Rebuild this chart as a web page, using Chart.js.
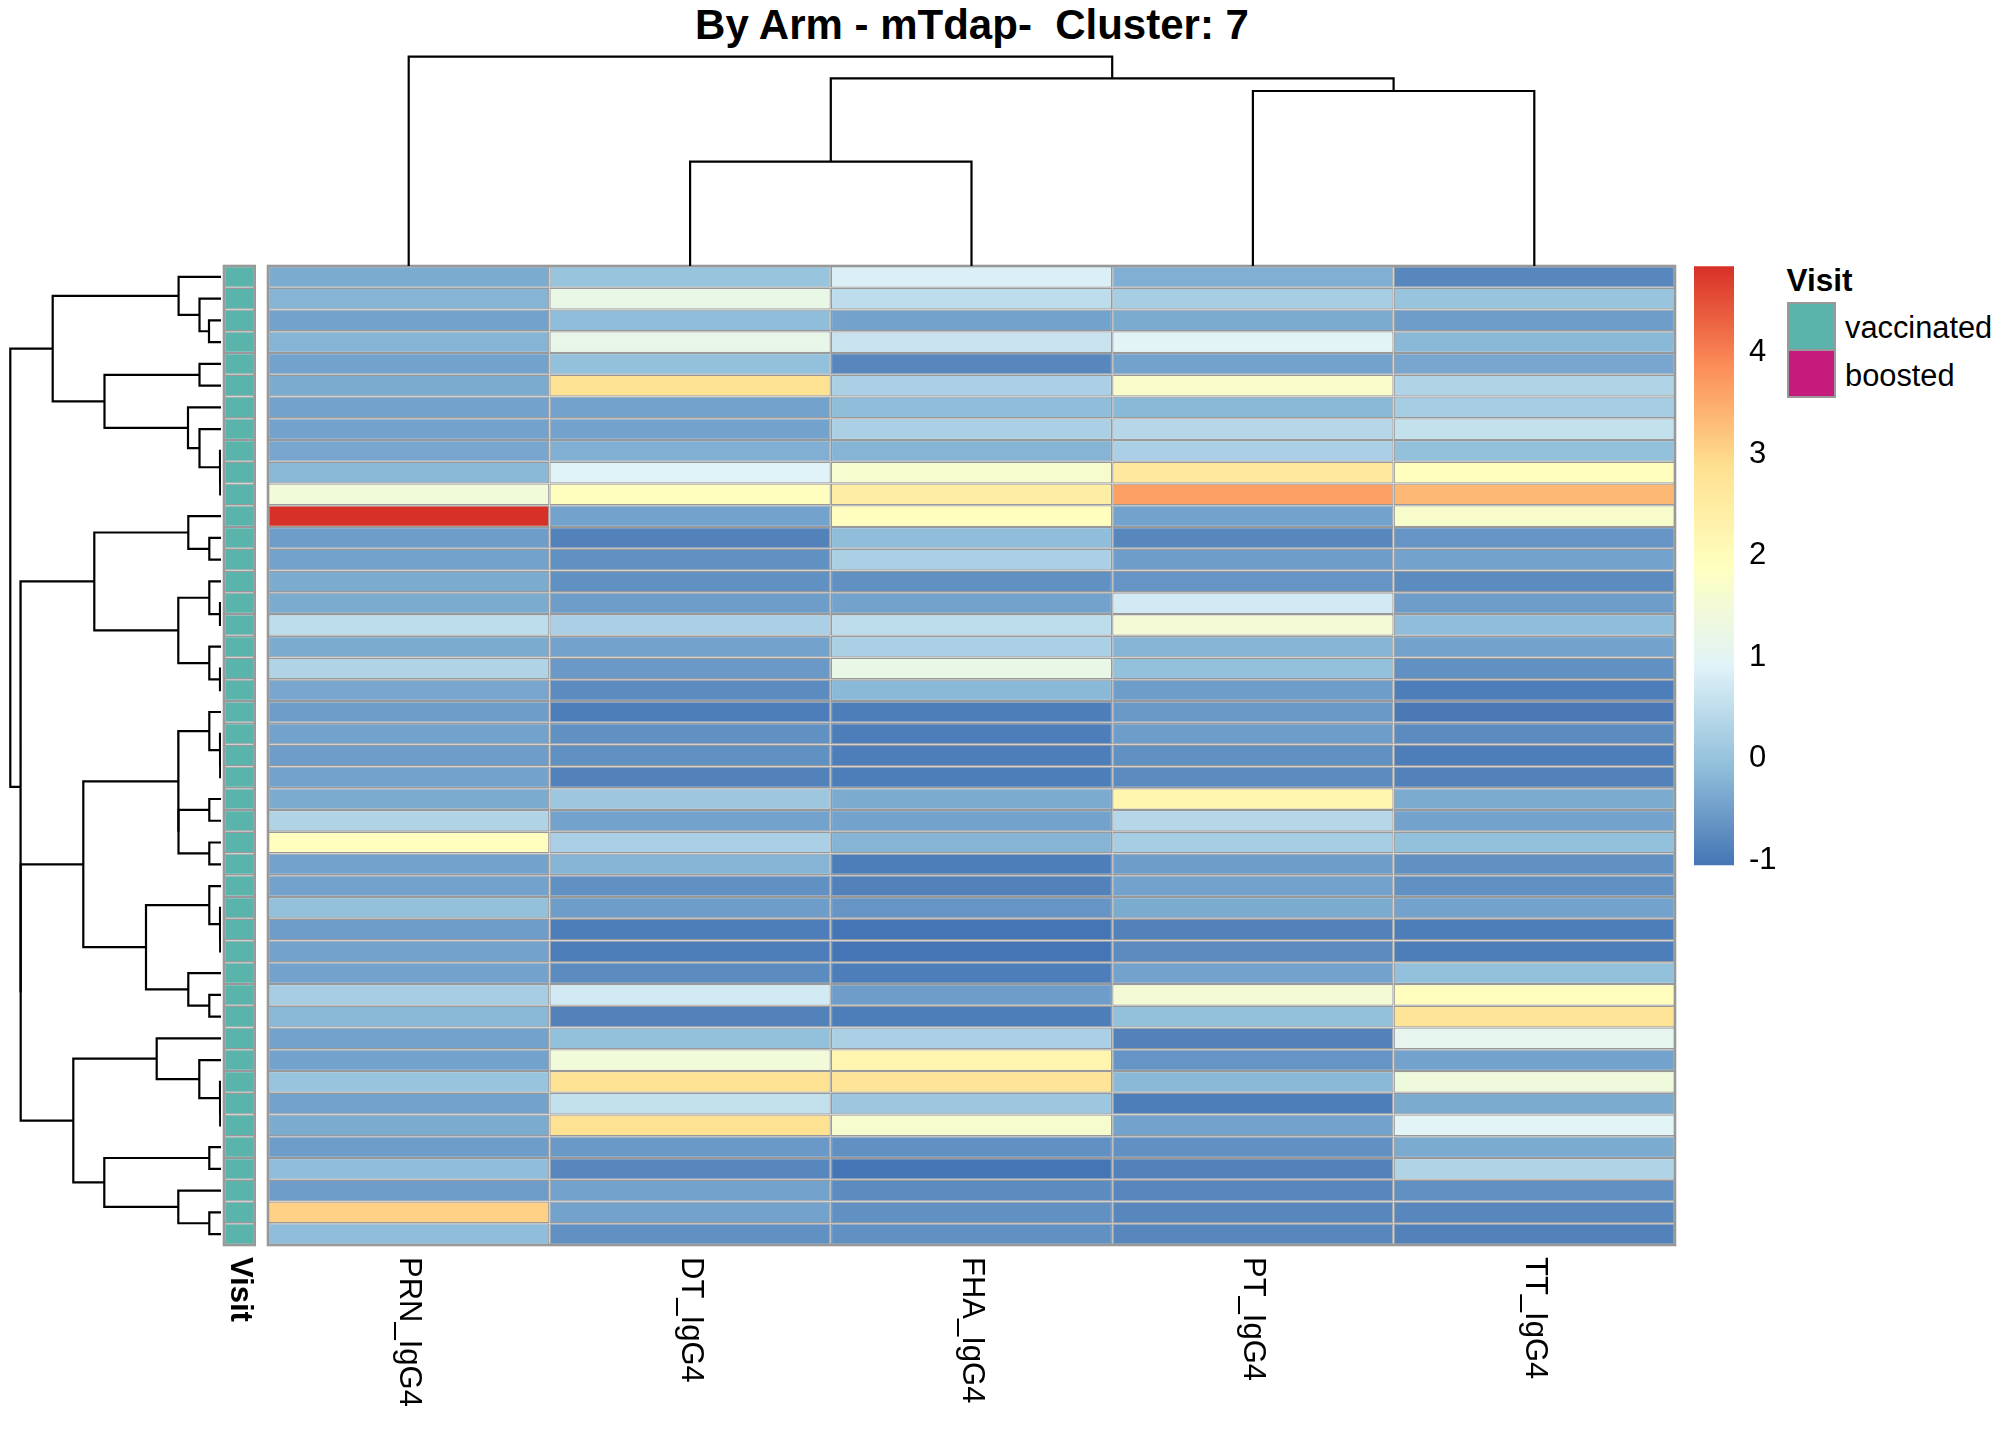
<!DOCTYPE html>
<html>
<head>
<meta charset="utf-8">
<script src="https://cdn.jsdelivr.net/npm/chart.js@4.4.1/dist/chart.umd.min.js"></script>
<style>
html,body{margin:0;padding:0;background:#fff;}
body{width:2016px;height:1440px;position:relative;overflow:hidden;font-family:"Liberation Sans",Arial,sans-serif;}
canvas{position:absolute;}
.t{position:absolute;white-space:pre;line-height:1;color:#000;font-family:"Liberation Sans",Arial,sans-serif;}
.box{position:absolute;box-sizing:border-box;border:2.6px solid #999999;}
</style>
</head>
<body>
<div class="t" id="title" style="left:972px;top:3.8px;font-size:42px;font-weight:bold;transform:translateX(-50%);">By Arm - mTdap-  Cluster: 7</div>
<div class="t" style="left:1786.5px;top:265px;font-size:31.5px;font-weight:bold;">Visit</div>
<div class="box" style="left:1787px;top:302px;width:49px;height:49.6px;background:#5AB4AC;"></div>
<div class="box" style="left:1787px;top:349px;width:49px;height:49.4px;background:#C51B7D;"></div>
<div class="t" style="left:1845px;top:312.5px;font-size:30.8px;">vaccinated</div>
<div class="t" style="left:1845px;top:360.8px;font-size:30.8px;">boosted</div>
<script>
// ---------------- DATA ----------------
const columns = ['PRN_IgG4', 'DT_IgG4', 'FHA_IgG4', 'PT_IgG4', 'TT_IgG4'];

const PRN_IgG4 = [-0.30,-0.22,-0.45,-0.22,-0.45,-0.30,-0.45,-0.42,-0.40,-0.15,1.46,4.853,-0.50,-0.42,-0.30,
  -0.30,0.50,-0.30,0.35,-0.38,-0.50,-0.45,-0.50,-0.45,-0.30,0.35,1.95,-0.45,-0.42,0.00,
  -0.50,-0.45,-0.42,0.20,-0.15,-0.45,-0.45,0.05,-0.42,-0.30,-0.50,-0.08,-0.50,3.06,-0.08];
const DT_IgG4 = [0.05,1.23,-0.05,1.17,0.00,2.80,-0.45,-0.45,-0.27,0.92,1.95,-0.45,-0.85,-0.65,-0.65,
  -0.50,0.25,-0.45,-0.55,-0.70,-0.90,-0.65,-0.65,-0.85,0.10,-0.42,0.25,-0.22,-0.65,-0.50,
  -0.90,-0.92,-0.72,0.75,-0.85,0.00,1.46,2.80,0.55,2.80,-0.55,-0.80,-0.42,-0.42,-0.65];
const FHA_IgG4 = [0.87,0.50,-0.45,0.65,-0.80,0.30,-0.05,0.30,-0.22,1.62,2.44,1.93,-0.08,0.30,-0.65,
  -0.45,0.50,0.25,1.23,-0.15,-0.92,-0.90,-0.92,-0.92,-0.30,-0.45,-0.22,-0.90,-0.85,-0.60,
  -1.05,-1.00,-0.92,-0.50,-0.92,0.30,2.22,2.76,0.10,1.62,-0.65,-1.02,-0.72,-0.65,-0.65];
const PT_IgG4 = [-0.25,0.20,-0.30,0.98,-0.45,1.68,-0.15,0.40,0.25,2.60,3.67,-0.45,-0.80,-0.50,-0.60,
  0.75,1.52,-0.22,0.00,-0.50,-0.55,-0.50,-0.65,-0.72,2.22,0.42,0.20,-0.50,-0.42,-0.30,
  -0.85,-0.72,-0.45,1.50,0.00,-0.85,-0.60,-0.15,-0.90,-0.45,-0.65,-0.85,-0.80,-0.80,-0.80];
const TT_IgG4 = [-0.80,0.05,-0.50,-0.15,-0.40,0.35,0.20,0.55,0.00,1.95,3.33,1.68,-0.60,-0.42,-0.70,
  -0.50,-0.07,-0.45,-0.65,-0.92,-0.95,-0.72,-0.90,-0.85,-0.30,-0.45,0.00,-0.65,-0.65,-0.42,
  -0.90,-0.90,0.00,1.95,2.76,1.10,-0.42,1.39,-0.30,0.98,-0.30,0.35,-0.65,-0.80,-0.85];

const visit = ['vaccinated','vaccinated','vaccinated','vaccinated','vaccinated','vaccinated','vaccinated','vaccinated','vaccinated',
  'vaccinated','vaccinated','vaccinated','vaccinated','vaccinated','vaccinated','vaccinated','vaccinated','vaccinated',
  'vaccinated','vaccinated','vaccinated','vaccinated','vaccinated','vaccinated','vaccinated','vaccinated','vaccinated',
  'vaccinated','vaccinated','vaccinated','vaccinated','vaccinated','vaccinated','vaccinated','vaccinated','vaccinated',
  'vaccinated','vaccinated','vaccinated','vaccinated','vaccinated','vaccinated','vaccinated','vaccinated','vaccinated'];
const visitLevels = ['vaccinated', 'boosted'];
const visitColors = ['#5AB4AC', '#C51B7D'];

// row dendrogram (hclust-style merges; negative = leaf in display order, positive = merge step)
const rowMergeA = [-3,-2,-1,-5,-10,-9,-8,-7,4,3,-13,-12,-16,-15,-19,-18,14,12,-23,-22,-21,-25,-27,22,21,-31,-30,-29,-34,-33,28,25,-39,-38,-37,-36,-41,-44,-43,37,36,32,18,10];
const rowMergeB = [-4,1,2,-6,-11,5,6,7,8,9,-14,11,-17,13,-20,15,16,17,-24,19,20,-26,-28,23,24,-32,26,27,-35,29,30,31,-40,33,34,35,-42,-45,38,39,40,41,42,43];
const rowMergeH = [12,21.5,42.4,21.5,0.8,1.0,21.5,33,116.5,168.3,11.7,32.7,1.0,11.7,1.0,11.7,42.7,126.7,0.8,1.0,11.7,11.7,11.7,42.5,42.7,0.8,1.0,11.7,11.7,32.7,75,137.7,0.8,1.0,21.7,64.3,11.7,11.7,42.7,116.7,147.7,200.3,200.5,210.7];

// column dendrogram
const colMergeA = [-2,-4,1,-1];
const colMergeB = [-3,-5,2,3];
const colMergeH = [104.3,175,187.7,209.3];

const colorbarTicks = [-1, 0, 1, 2, 3, 4];
const rampStops = ['#4575B4','#91BFDB','#E0F3F8','#FFFFBF','#FEE090','#FC8D59','#D73027'];

// ---------------- HELPERS ----------------
const GRID = '#999999';
const FONT = '"Liberation Sans", Arial, sans-serif';
const colValues = [PRN_IgG4, DT_IgG4, FHA_IgG4, PT_IgG4, TT_IgG4];
const allVals = colValues.flat();
const vmin = Math.min(...allVals), vmax = Math.max(...allVals);
const nRows = PRN_IgG4.length;
const rowIds = PRN_IgG4.map((_, i) => 'S' + (i + 1));

function hex2rgb(h){ return [1,3,5].map(i => parseInt(h.substr(i,2),16)); }
const rampRGB = rampStops.map(hex2rgb);
function rampAt(p){
  const s = p * (rampRGB.length - 1);
  const i = Math.min(rampRGB.length - 2, Math.floor(s));
  const f = s - i;
  const a = rampRGB[i], b = rampRGB[i+1];
  return 'rgb(' + a.map((x,n) => Math.round(x + (b[n]-x)*f)).join(',') + ')';
}
function colorFor(v){
  let t = (v - vmin) / (vmax - vmin);
  t = Math.max(0, Math.min(1, t));
  const k = Math.min(99, Math.floor(t * 100));
  return rampAt(k / 99);
}

function makeCanvas(left, top, w, h){
  const c = document.createElement('canvas');
  c.width = w; c.height = h;
  c.style.left = left + 'px'; c.style.top = top + 'px';
  c.style.width = w + 'px'; c.style.height = h + 'px';
  document.body.appendChild(c);
  return c;
}

const basePlugins = { legend: { display: false }, tooltip: { enabled: false }, title: { display: false } };

const framePlugin = {
  id: 'frame',
  afterDatasetsDraw(chart){
    const {ctx, chartArea: a} = chart;
    ctx.save();
    ctx.strokeStyle = GRID; ctx.lineWidth = 2.6;
    ctx.strokeRect(a.left, a.top, a.right - a.left, a.bottom - a.top);
    ctx.restore();
  }
};

function rotatedLabelPlugin(items){
  return {
    id: 'rotLabels',
    afterDraw(chart){
      const ctx = chart.ctx;
      const xs = chart.scales.x;
      ctx.save();
      ctx.fillStyle = '#000';
      ctx.textAlign = 'left';
      ctx.textBaseline = 'middle';
      items.forEach(it => {
        ctx.save();
        ctx.font = it.font;
        ctx.translate(xs.getPixelForValue(it.pos), chart.chartArea.bottom + 12);
        ctx.rotate(Math.PI / 2);
        ctx.fillText(it.text, 0, 0);
        ctx.restore();
      });
      ctx.restore();
    }
  };
}

// ---------------- HEATMAP ----------------
const hmCanvas = makeCanvas(266, 264, 1411, 1176);
new Chart(hmCanvas, {
  type: 'bar',
  data: {
    labels: rowIds,
    datasets: colValues.map((vals, j) => ({
      label: columns[j],
      data: vals.map((v, i) => ({ x: [j, j + 1], y: rowIds[i] })),
      backgroundColor: ctx => colorFor(colValues[j][ctx.dataIndex]),
      borderColor: GRID,
      borderWidth: 1.3,
      borderSkipped: false,
      barPercentage: 1,
      categoryPercentage: 1,
      grouped: false,
      inflateAmount: 0
    }))
  },
  options: {
    indexAxis: 'y',
    responsive: false,
    animation: false,
    events: [],
    layout: { padding: { left: 2, right: 2, top: 2, bottom: 195 } },
    scales: {
      x: { type: 'linear', min: 0, max: columns.length, display: false },
      y: { type: 'category', display: false }
    },
    plugins: basePlugins
  },
  plugins: [framePlugin, rotatedLabelPlugin(columns.map((c, j) => ({ text: c, pos: j + 0.5, font: '31px ' + FONT })))]
});

// ---------------- ANNOTATION COLUMN ----------------
const annCanvas = makeCanvas(222, 264, 34, 1176);
new Chart(annCanvas, {
  type: 'bar',
  data: {
    labels: rowIds,
    datasets: [{
      label: 'Visit',
      data: visit.map((v, i) => ({ x: [0, 1], y: rowIds[i] })),
      backgroundColor: ctx => visitColors[visitLevels.indexOf(visit[ctx.dataIndex])],
      borderColor: GRID,
      borderWidth: 1.3,
      borderSkipped: false,
      barPercentage: 1,
      categoryPercentage: 1,
      inflateAmount: 0
    }]
  },
  options: {
    indexAxis: 'y',
    responsive: false,
    animation: false,
    events: [],
    layout: { padding: { left: 2, right: 1.3, top: 2, bottom: 195 } },
    scales: {
      x: { type: 'linear', min: 0, max: 1, display: false },
      y: { type: 'category', display: false }
    },
    plugins: basePlugins
  },
  plugins: [framePlugin, rotatedLabelPlugin([{ text: 'Visit', pos: 0.5, font: 'bold 31px ' + FONT }])]
});

// ---------------- DENDROGRAMS ----------------
function dendroSegments(A, B, H, horizontalLeaves){
  const pos = [];
  const info = k => k < 0 ? { c: -k - 0.5, h: 0 } : pos[k - 1];
  const segs = [];
  for (let m = 0; m < A.length; m++){
    const a = info(A[m]), b = info(B[m]), h = H[m];
    pos.push({ c: (a.c + b.c) / 2, h });
    if (horizontalLeaves) {
      segs.push([{x: a.c, y: a.h}, {x: a.c, y: h}, {x: b.c, y: h}, {x: b.c, y: b.h}]);
    } else {
      segs.push([{x: a.h, y: a.c}, {x: h, y: a.c}, {x: h, y: b.c}, {x: b.h, y: b.c}]);
    }
  }
  return segs;
}
function dendroDatasets(segs){
  return segs.map(s => ({
    data: s, showLine: true, pointRadius: 0, borderColor: '#000', borderWidth: 2.2,
    fill: false, tension: 0, borderJoinStyle: 'miter', borderCapStyle: 'butt'
  }));
}

// row dendrogram: height axis runs leftwards
const rdCanvas = makeCanvas(0, 266, 221, 979);
new Chart(rdCanvas, {
  type: 'scatter',
  data: { datasets: dendroDatasets(dendroSegments(rowMergeA, rowMergeB, rowMergeH, false)) },
  options: {
    responsive: false, animation: false, events: [],
    layout: { padding: 0 },
    scales: {
      x: { type: 'linear', min: 0, max: 221, reverse: true, display: false },
      y: { type: 'linear', min: 0, max: nRows, reverse: true, display: false }
    },
    plugins: basePlugins
  }
});

// column dendrogram
const cdCanvas = makeCanvas(268, 0, 1407, 266);
new Chart(cdCanvas, {
  type: 'scatter',
  data: { datasets: dendroDatasets(dendroSegments(colMergeA, colMergeB, colMergeH, true)) },
  options: {
    responsive: false, animation: false, events: [],
    layout: { padding: 0 },
    scales: {
      x: { type: 'linear', min: 0, max: columns.length, display: false },
      y: { type: 'linear', min: 0, max: 266, display: false }
    },
    plugins: basePlugins
  }
});

// ---------------- COLOR BAR ----------------
const cbCanvas = makeCanvas(1694, 221, 110, 690);
new Chart(cbCanvas, {
  type: 'bar',
  data: {
    labels: ['scale'],
    datasets: [{
      data: [[vmin, vmax]],
      backgroundColor: ctx => {
        const chart = ctx.chart;
        if (!chart.chartArea) return rampStops[0];
        const ys = chart.scales.y;
        const g = chart.ctx.createLinearGradient(0, ys.getPixelForValue(vmin), 0, ys.getPixelForValue(vmax));
        rampStops.forEach((c, i) => g.addColorStop(i / (rampStops.length - 1), c));
        return g;
      },
      borderWidth: 0,
      barPercentage: 1,
      categoryPercentage: 1,
      inflateAmount: 0
    }]
  },
  options: {
    responsive: false, animation: false, events: [],
    layout: { padding: 0 },
    scales: {
      x: { type: 'category', display: false },
      y: {
        type: 'linear', position: 'right', min: -1.5, max: 5.3,
        grid: { display: false, drawTicks: false },
        border: { display: false },
        ticks: { color: '#000', font: { family: FONT, size: 31 }, padding: 15, callback: v => String(v) },
        afterBuildTicks: axis => { axis.ticks = colorbarTicks.map(v => ({ value: v })); },
        afterFit: axis => { axis.width = 70; axis.paddingTop = 0; axis.paddingBottom = 0; }
      }
    },
    plugins: basePlugins
  }
});
</script>
</body>
</html>
